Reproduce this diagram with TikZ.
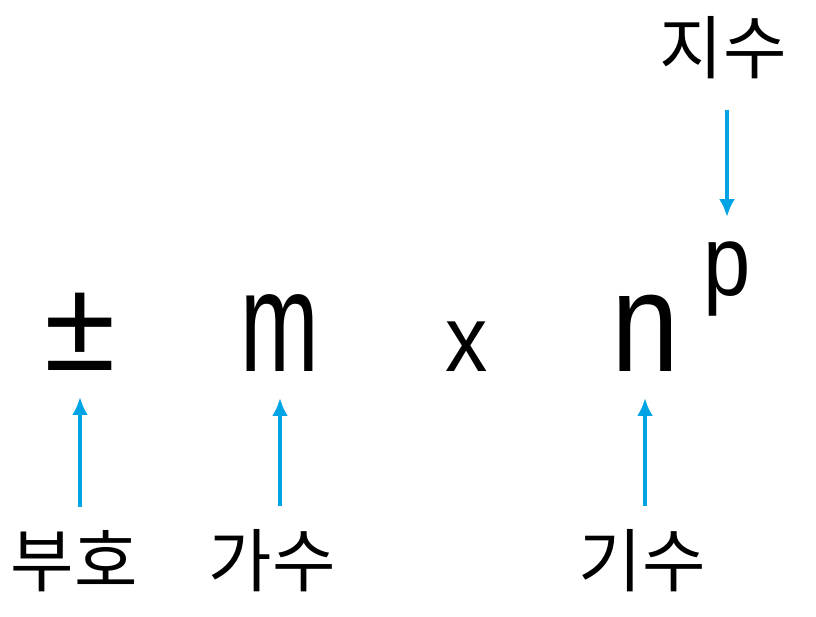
\documentclass[tikz,border=0pt]{standalone}
\usepackage{fontspec}
\setmainfont{Liberation Sans}
\newfontfamily\korfont{Noto Sans CJK KR}
\usetikzlibrary{calc}
\usetikzlibrary{arrows.meta}
\definecolor{sky}{RGB}{0,164,228}
\tikzset{
  symb/.style = {anchor=base, inner sep=0pt, font=\fontsize{#1}{#1}\selectfont},
  squeeze/.style = {xscale=#1, transform shape},
  tag/.style = {anchor=base, inner sep=0pt, font=\korfont\fontsize{69}{69}\selectfont},
  vec/.style = {color=#1, line width=4pt, -{Latex[length=18pt,width=16pt]}}
}

\begin{document}
\begin{tikzpicture}[x=1pt,y=1pt]

    \useasboundingbox (0,0) rectangle (816,616);

    % Symbols
    \node[symb=130] (pm) at (80,245) {±};
    \node[symb=143, squeeze=0.66] (m) at (280,244) {m};
    \node[symb=94, squeeze=0.9] (times) at (467,244) {x};
    \node[symb=142, squeeze=0.86] (n) at (645,244) {n};
    \node[symb=100, squeeze=0.85] (p) at (727,320) {p};

    % Labels
    \node[tag] (sign) at (74,30) {부호};
    \node[tag] (mant) at (272,30) {가수};
    \node[tag] (base) at (642,30) {기수};
    \node[tag] (expo) at (723,542) {지수};

    % Arrows
    \draw[vec={sky}, shorten <=23pt] (sign.north -| pm.base) -- ([yshift=-26pt]pm.base);
    \draw[vec={sky}, shorten <=23pt] (mant.north -| m.base) -- ([yshift=-26pt]m.base);
    \draw[vec={sky}, shorten <=23pt] (base.north -| n.base) -- ([yshift=-26pt]n.base);
    \draw[vec={sky}, shorten <=30pt, shorten >=25pt] (expo.south -| p.base) -- (p.north);

\end{tikzpicture}
\end{document}
